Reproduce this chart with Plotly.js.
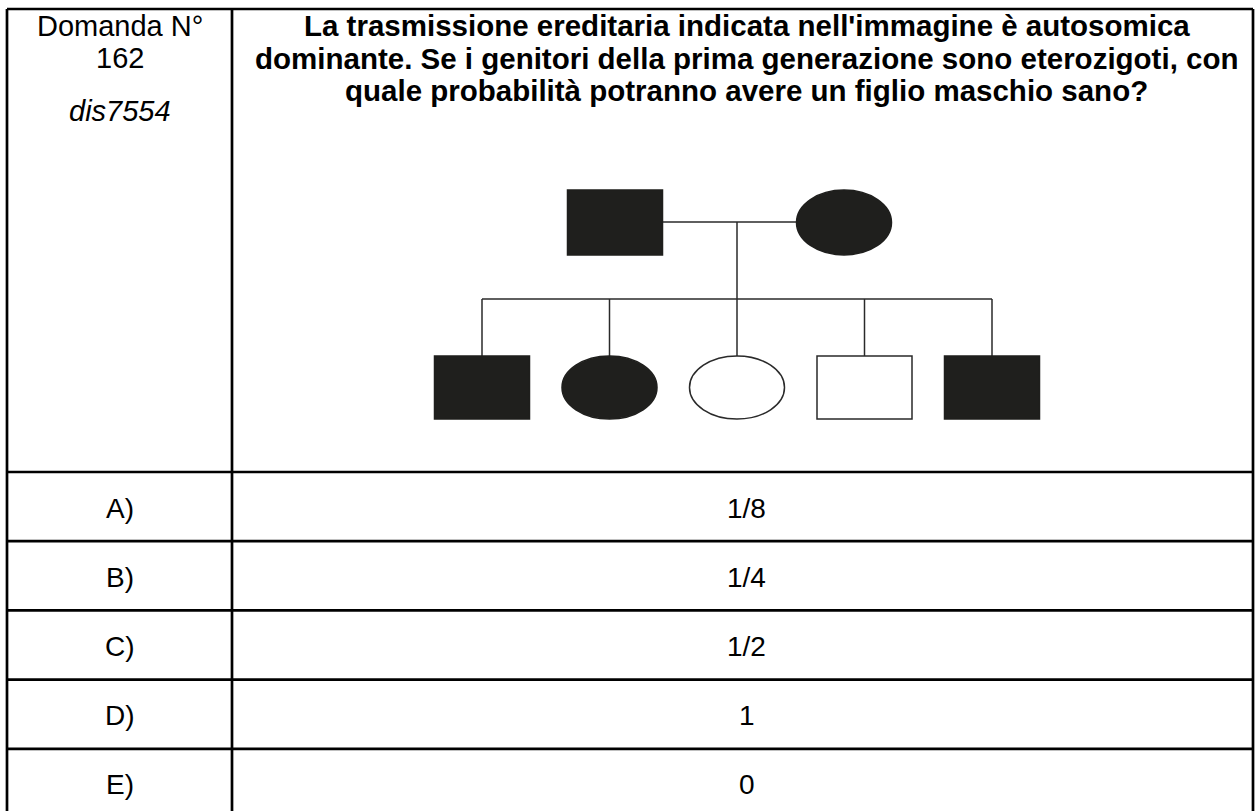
<!DOCTYPE html>
<html>
<head>
<meta charset="utf-8">
<script src="https://cdn.plot.ly/plotly-3.0.1.min.js"></script>
<style>
  html, body { margin: 0; padding: 0; background: #ffffff; overflow: hidden; }
  #chart { width: 1257px; height: 811px; }
</style>
</head>
<body>
<div id="chart"></div>
<script>
// ---------- data ----------
const headerLines = ['Domanda N°', '162'];
const questionCode = 'dis7554';
const questionLines = [
  "La trasmissione ereditaria indicata nell'immagine è autosomica",
  "dominante. Se i genitori della prima generazione sono eterozigoti, con",
  "quale probabilità potranno avere un figlio maschio sano?"
];
const optionLabels = ['A)', 'B)', 'C)', 'D)', 'E)'];
const optionValues = ['1/8', '1/4', '1/2', '1', '0'];
const parentSex = ['M', 'F'];
const parentAffected = [true, true];
const childSex = ['M', 'F', 'F', 'M', 'M'];
const childAffected = [true, true, false, false, true];

// ---------- layout geometry (reference pixel units) ----------
const W = 1257, H = 811;
const T = { left: 7, right: 1253, top: 9, split: 232, headBottom: 472, rowH: 69.2, bottom: 840 };
const P = {
  cx: 737, sibY: 299, matingY: 222, childTop: 356, childBot: 419, childStep: 127.5,
  symW: 95, parentTop: 190, parentBot: 255, parentX: [615, 844]
};
const TXT = { headSize: 29, titleSize: 29.5, optSize: 28, lineGap: 32.5, firstLine: 25.5, codeY: 110.5, rightShift: 4 };
const INK = '#1f1f1d';
const LINE = '#2a2a2a';
const FONT = 'Liberation Sans, Arial, Helvetica, sans-serif';

const shapes = [];
const annotations = [];

function hline(x0, x1, y, w, c) { shapes.push({ type: 'line', xref: 'x', yref: 'y', x0: x0, x1: x1, y0: y, y1: y, line: { color: c, width: w } }); }
function vline(x, y0, y1, w, c) { shapes.push({ type: 'line', xref: 'x', yref: 'y', x0: x, x1: x, y0: y0, y1: y1, line: { color: c, width: w } }); }

// table grid
const rowLines = [T.headBottom];
optionLabels.forEach((_, i) => rowLines.push(T.headBottom + T.rowH * (i + 1)));
hline(T.left, T.right, T.top, 2.7, '#000');
rowLines.forEach(y => hline(T.left, T.right, y, 2.7, '#000'));
vline(T.left, T.top, T.bottom, 2.7, '#000');
vline(T.split, T.top, T.bottom, 2.7, '#000');
vline(T.right, T.top, T.bottom, 2.7, '#000');

// pedigree symbol
function symbol(sex, affected, cx, y0, y1) {
  shapes.push({
    type: sex === 'M' ? 'rect' : 'circle', xref: 'x', yref: 'y',
    x0: cx - P.symW / 2, x1: cx + P.symW / 2, y0: y0, y1: y1,
    fillcolor: affected ? INK : '#ffffff',
    line: { color: affected ? INK : LINE, width: 1.5 }
  });
}

// parents
hline(P.parentX[0], P.parentX[1], P.matingY, 1.5, LINE);
vline(P.cx, P.matingY, P.sibY, 1.5, LINE);
parentSex.forEach((sx, i) => symbol(sx, parentAffected[i], P.parentX[i], P.parentTop, P.parentBot));

// children
const n = childSex.length;
const childX = childSex.map((_, i) => P.cx + (i - (n - 1) / 2) * P.childStep);
hline(childX[0], childX[n - 1], P.sibY, 1.5, LINE);
childX.forEach(x => vline(x, P.sibY, P.childTop + 1, 1.5, LINE));
childSex.forEach((sx, i) => symbol(sx, childAffected[i], childX[i], P.childTop, P.childBot));

// text
function label(text, x, y, size) {
  annotations.push({
    text: text, xref: 'x', yref: 'y', x: x, y: y, showarrow: false,
    xanchor: 'center', yanchor: 'middle',
    font: { family: FONT, size: size, color: '#000' }
  });
}
const leftMid = (T.left + T.split) / 2;
const rightMid = (T.split + T.right) / 2 + TXT.rightShift;
headerLines.forEach((t, i) => label(t, leftMid, TXT.firstLine + TXT.lineGap * i, TXT.headSize));
label('<i>' + questionCode + '</i>', leftMid, TXT.codeY, TXT.headSize);
questionLines.forEach((t, i) => label('<b>' + t + '</b>', rightMid, TXT.firstLine + TXT.lineGap * i, TXT.titleSize));
optionLabels.forEach((t, i) => {
  const yc = T.headBottom + T.rowH * (i + 0.5) + 1.5;
  label(t, leftMid, yc, TXT.optSize);
  label(optionValues[i], rightMid, yc, TXT.optSize);
});

const layout = {
  width: W, height: H,
  margin: { l: 0, r: 0, t: 0, b: 0, pad: 0 },
  paper_bgcolor: '#ffffff', plot_bgcolor: '#ffffff',
  showlegend: false,
  xaxis: { range: [0, W], visible: false, fixedrange: true },
  yaxis: { range: [H, 0], visible: false, fixedrange: true },
  shapes: shapes,
  annotations: annotations
};
const traces = [{ x: [0, W], y: [0, H], mode: 'markers', marker: { opacity: 0 }, hoverinfo: 'skip', type: 'scatter' }];
Plotly.newPlot('chart', traces, layout, { staticPlot: true, displayModeBar: false });
</script>
</body>
</html>
